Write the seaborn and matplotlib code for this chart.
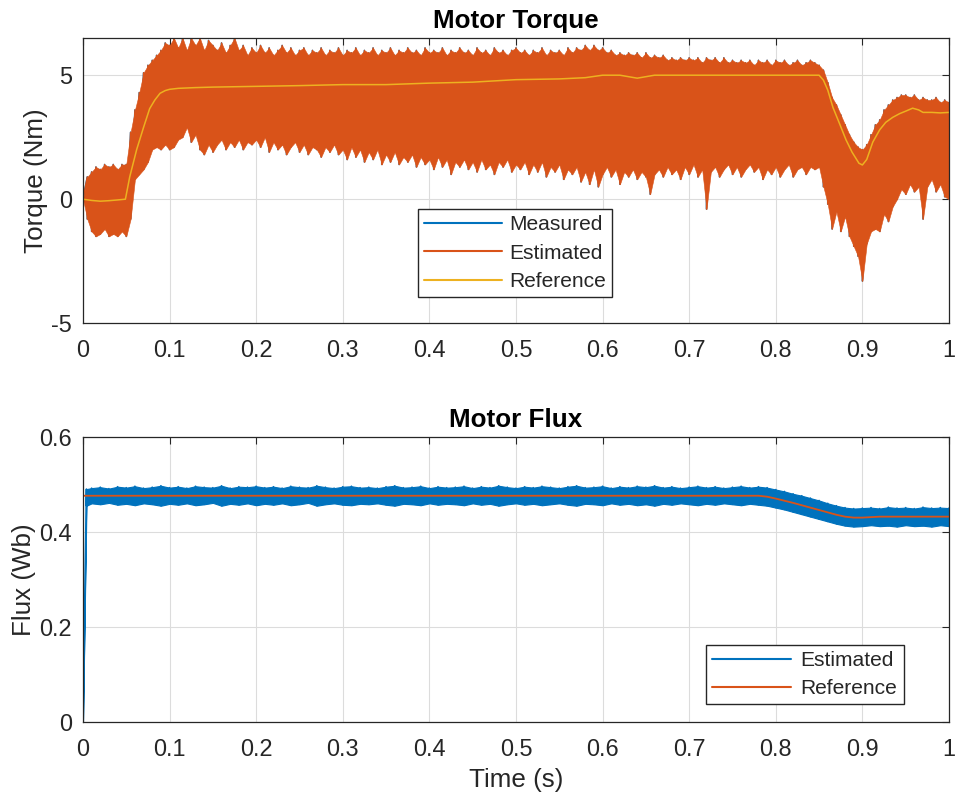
import numpy as np
import pandas as pd
import matplotlib
matplotlib.use("Agg")
import matplotlib.pyplot as plt
from matplotlib.lines import Line2D
from matplotlib.ticker import FormatStrFormatter, MultipleLocator
import seaborn as sns

# ---------------- data ----------------
t_torque = np.round(np.linspace(0, 1, 201), 3)

torque_hi = [
    0.0, 0.9, 1.1, 1.3, 1.2, 1.4, 1.3, 1.4, 1.2, 1.4,
    1.4, 2.7, 3.6, 4.3, 5.1, 5.4, 5.6, 5.8, 6.0, 6.3,
    6.2, 6.5, 6.1, 6.5, 6.0, 6.5, 6.2, 6.5, 6.0, 6.4,
    6.2, 6.0, 6.3, 5.9, 6.2, 6.5, 6.0, 6.2, 5.8, 6.1,
    5.9,
    6.2, 5.9, 6.1, 5.8, 6.0, 6.2, 5.9, 6.1, 5.8, 6.0, 6.1, 5.8, 6.0, 5.9, 6.1, 5.8, 6.0, 5.9, 6.1, 5.8,
    6.0, 5.9, 6.1, 5.8, 6.0, 5.9, 6.1, 5.8, 6.0, 5.9, 6.1, 5.8, 6.0, 5.9, 6.1, 5.9, 6.0, 5.8, 6.1, 5.9,
    6.0, 5.9, 6.1, 5.8, 6.0, 5.9, 6.1, 5.9, 6.0, 5.8, 6.1, 5.9, 6.0, 5.8, 6.1, 5.9, 6.0, 5.8, 6.0, 6.1,
    5.9, 6.0, 5.8, 6.0, 5.9, 6.1, 5.8, 6.0, 5.9, 6.0, 5.8, 6.1, 5.9, 6.1, 6.0, 6.2, 6.0, 6.2, 6.0, 6.1,
    5.9, 6.0, 5.8, 5.9, 5.8, 5.9, 5.8, 5.9, 5.7, 5.9, 5.7, 5.8, 5.7, 5.8, 5.6, 5.7, 5.6, 5.7, 5.6, 5.7,
    5.6, 5.7, 5.5, 5.7, 5.6, 5.7, 5.5, 5.7, 5.5, 5.6, 5.5, 5.6, 5.5, 5.6, 5.4, 5.6, 5.5, 5.6, 5.4, 5.6,
    5.5, 5.6, 5.4, 5.5, 5.6, 5.4, 5.5, 5.6, 5.5, 5.4,
    5.2, 4.7, 4.1, 3.8, 3.4, 3.0, 2.6, 2.3, 2.1, 2.0, 2.2, 2.6, 3.0, 3.2, 3.6,
    3.8, 4.0, 4.1, 4.2, 4.2, 4.1, 4.2, 4.0, 4.1, 4.0, 4.0, 4.1, 3.9, 4.0, 3.9,
]
torque_lo = [
    0.0, -0.8, -1.3, -1.5, -1.4, -1.2, -1.5, -1.4, -1.5, -1.3,
    -1.5, -0.8, 0.8, 1.0, 1.2, 1.5, 2.0, 2.1, 2.0, 2.2,
    2.0, 2.1, 2.4, 2.5, 2.9, 2.3, 2.6, 2.0, 1.8, 2.2,
    1.9, 2.2, 2.4, 2.0, 2.3, 2.1, 2.4, 2.0, 2.3, 2.2,
    2.4,
    2.1, 2.5, 1.9, 2.3, 2.0, 2.2, 1.8, 2.1, 2.3, 1.9, 2.2, 1.8, 2.1, 2.0, 1.7, 2.1, 1.9, 2.2, 1.8, 2.0,
    1.6, 2.1, 1.7, 2.0, 1.5, 1.9, 1.6, 2.0, 1.4, 1.8, 1.5, 1.9, 1.4, 1.7, 1.5, 1.8, 1.3, 1.7, 1.4, 1.6,
    1.2, 1.7, 1.3, 1.6, 1.0, 1.5, 1.3, 1.6, 1.2, 1.5, 1.1, 1.6, 1.2, 1.4, 1.0, 1.5, 1.3, 1.6, 1.1, 1.4,
    1.2, 1.5, 1.0, 1.4, 1.1, 1.5, 0.9, 1.3, 1.1, 1.4, 0.8, 1.2, 1.0, 1.3, 0.7, 1.1, 0.6, 1.2, 0.5, 1.0,
    1.3, 0.9, 1.2, 0.6, 1.1, 0.9, 1.2, 0.8, 1.1, 0.9, 0.2, 1.0, 1.2, 0.9, 1.3, 1.0, 1.2, 0.8, 1.3, 1.0,
    1.4, 0.9, 1.2, -0.4, 1.1, 1.3, 0.9, 1.2, 1.4, 1.0, 1.3, 0.9, 1.2, 1.4, 1.1, 1.3, 0.8, 1.2, 1.0, 1.3,
    0.9, 1.2, 1.4, 0.9, 1.2, 1.3, 1.0, 1.3, 1.2, 1.3,
    0.5, -0.2, -1.2, -0.5, -1.3, -0.7, -1.5, -1.9, -2.3, -3.3, -1.8, -1.3, -1.2, -1.3, -0.6,
    -0.9, -0.3, 0.0, 0.4, 0.2, 0.6, 0.3, 0.5, -0.8, 0.5, 0.8, 0.3, 0.6, 0.1, 0.0,
]

ref_torque_t = [0, 0.01, 0.02, 0.03, 0.04, 0.049, 0.054, 0.062, 0.07, 0.077,
                0.083, 0.089, 0.095, 0.1, 0.11, 0.13, 0.15, 0.2, 0.25, 0.3,
                0.35, 0.4, 0.45, 0.5, 0.55, 0.58, 0.6, 0.62, 0.64, 0.66,
                0.7, 0.75, 0.8, 0.85, 0.855, 0.86, 0.866, 0.873, 0.881, 0.888,
                0.896, 0.9, 0.905, 0.912, 0.92, 0.927, 0.935, 0.943, 0.95, 0.958,
                0.965, 0.97, 0.98, 0.99, 1.0]
ref_torque = [0, -0.05, -0.08, -0.06, -0.03, 0.0, 0.9, 2.0, 2.9, 3.65,
              4.0, 4.27, 4.38, 4.43, 4.47, 4.5, 4.52, 4.55, 4.58, 4.62,
              4.62, 4.68, 4.72, 4.82, 4.85, 4.9, 5.0, 5.0, 4.88, 5.0,
              5.0, 5.0, 5.0, 5.0, 4.8, 4.4, 3.7, 3.1, 2.4, 1.9,
              1.45, 1.38, 1.6, 2.3, 2.8, 3.1, 3.3, 3.45, 3.55, 3.67,
              3.6, 3.5, 3.5, 3.48, 3.5]

flux_t = [0.0, 0.004] + [round(0.01 * k, 2) for k in range(1, 101)]
flux_hi = [0.0, 0.490,
    0.492, 0.494, 0.491, 0.495, 0.493, 0.496, 0.492, 0.494, 0.497, 0.493,
    0.495, 0.492, 0.496, 0.494, 0.493, 0.497, 0.492, 0.495, 0.494, 0.496,
    0.493, 0.495, 0.492, 0.496, 0.494, 0.493, 0.497, 0.494, 0.492, 0.495,
    0.496, 0.493, 0.494, 0.492, 0.495, 0.497, 0.493, 0.494, 0.496, 0.492,
    0.495, 0.493, 0.494, 0.496, 0.492, 0.495, 0.493, 0.497, 0.494, 0.492,
    0.495, 0.493, 0.496, 0.494, 0.492, 0.495, 0.497, 0.493, 0.494, 0.496,
    0.492, 0.495, 0.493, 0.496, 0.494, 0.497, 0.493, 0.495, 0.492, 0.494,
    0.496, 0.493, 0.495, 0.492, 0.494, 0.496, 0.493, 0.495,
    0.493, 0.489, 0.485, 0.480, 0.476, 0.471, 0.466, 0.460, 0.455, 0.451, 0.449,
    0.450, 0.451, 0.449, 0.452, 0.450, 0.451, 0.449, 0.452, 0.450, 0.451, 0.450]
flux_lo = [0.0, 0.455,
    0.460, 0.458, 0.461, 0.457, 0.459, 0.456, 0.460, 0.458, 0.455, 0.459,
    0.457, 0.460, 0.456, 0.458, 0.461, 0.455, 0.459, 0.457, 0.460, 0.456,
    0.459, 0.457, 0.460, 0.456, 0.458, 0.461, 0.455, 0.458, 0.460, 0.457,
    0.456, 0.459, 0.458, 0.460, 0.457, 0.455, 0.459, 0.458, 0.456, 0.460,
    0.457, 0.459, 0.458, 0.456, 0.460, 0.457, 0.459, 0.455, 0.458, 0.460,
    0.457, 0.459, 0.456, 0.458, 0.460, 0.457, 0.455, 0.459, 0.458, 0.456,
    0.460, 0.457, 0.459, 0.456, 0.458, 0.455, 0.459, 0.457, 0.460, 0.458,
    0.456, 0.459, 0.457, 0.460, 0.458, 0.456, 0.459, 0.457,
    0.455, 0.451, 0.447, 0.442, 0.437, 0.432, 0.427, 0.422, 0.417, 0.413, 0.411,
    0.412, 0.414, 0.412, 0.413, 0.411, 0.414, 0.412, 0.413, 0.411, 0.414, 0.412]

ref_flux_t = [0, 0.78, 0.79, 0.80, 0.82, 0.84, 0.86, 0.87, 0.88, 0.89, 0.90, 0.92, 0.95, 1.0]
ref_flux = [0.476, 0.476, 0.474, 0.470, 0.461, 0.451, 0.441, 0.436, 0.432, 0.430, 0.430, 0.432, 0.432, 0.432]

legend_torque = ["Measured", "Estimated", "Reference"]
legend_flux = ["Estimated", "Reference"]

# ---------------- style ----------------
sns.set_style("white")
plt.rcParams["font.family"] = ["Liberation Sans", "DejaVu Sans"]
plt.rcParams["axes.unicode_minus"] = False

BLUE = "#0072BD"
ORANGE = "#D95319"
YELLOW = "#EDB120"
AXC = "#262626"

fig = plt.figure(figsize=(9.58, 8), dpi=100)
ax1 = fig.add_axes([0.0866, 0.596, 0.904, 0.3565])
ax2 = fig.add_axes([0.0866, 0.0975, 0.904, 0.3565])


def zigzag(t, hi, lo):
    return pd.DataFrame({"t": np.repeat(np.asarray(t, float), 2),
                         "v": np.column_stack([hi, lo]).ravel()})


# ---- torque ----
df_tq = zigzag(t_torque, torque_hi, torque_lo)
sns.lineplot(data=df_tq, x="t", y="v", sort=False, estimator=None, color=BLUE, lw=1.15, ax=ax1, zorder=1.1)
ax1.fill_between(t_torque, torque_lo, torque_hi, facecolor=ORANGE, edgecolor=ORANGE, lw=0.4, zorder=1.2)
sns.lineplot(data=df_tq, x="t", y="v", sort=False, estimator=None, color=ORANGE, lw=1.0, ax=ax1, zorder=1.3)
sns.lineplot(x=ref_torque_t, y=ref_torque, sort=False, estimator=None, color=YELLOW, lw=1.1, ax=ax1, zorder=1.4)

# ---- flux ----
df_fx = zigzag(flux_t, flux_hi, flux_lo)
ax2.fill_between(flux_t, flux_lo, flux_hi, facecolor=BLUE, edgecolor=BLUE, lw=0.8, zorder=1.0)
sns.lineplot(data=df_fx, x="t", y="v", sort=False, estimator=None, color=BLUE, lw=1.2, ax=ax2, zorder=1.1)
sns.lineplot(x=ref_flux_t, y=ref_flux, sort=False, estimator=None, color=ORANGE, lw=1.3, ax=ax2, zorder=1.4)

for ax in (ax1, ax2):
    ax.set_xlim(0, 1)
    ax.xaxis.set_major_locator(MultipleLocator(0.1))
    ax.xaxis.set_major_formatter(FormatStrFormatter("%g"))
    ax.yaxis.set_major_formatter(FormatStrFormatter("%g"))
    ax.tick_params(direction="in", top=True, right=True, length=5, width=0.8,
                   colors=AXC, labelsize=16.9)
    ax.tick_params(axis="x", pad=11.5)
    ax.tick_params(axis="y", pad=8)
    ax.grid(True, color="#dcdcdc", lw=0.8)
    ax.set_axisbelow(True)
    for s in ax.spines.values():
        s.set_color(AXC)
        s.set_linewidth(0.9)
        s.set_zorder(3)

ax1.set_ylim(-5, 6.5)
ax1.set_yticks([-5, 0, 5])
ax2.set_ylim(0, 0.6)
ax2.set_yticks([0, 0.2, 0.4, 0.6])

ax1.set_xlabel("")
ax1.set_ylabel("Torque (Nm)", fontsize=18.7, color=AXC, labelpad=2)
ax2.set_ylabel("Flux (Wb)", fontsize=18.7, color=AXC, labelpad=2.5)
ax2.set_xlabel("Time (s)", fontsize=18.7, color=AXC, labelpad=5)
ax1.set_title("Motor Torque", fontsize=18.7, fontweight="bold", color="black", pad=7)
ax2.set_title("Motor Flux", fontsize=18.7, fontweight="bold", color="black", pad=7)

h_tq = [Line2D([], [], color=BLUE, lw=1.5), Line2D([], [], color=ORANGE, lw=1.5),
        Line2D([], [], color=YELLOW, lw=1.5)]
leg1 = ax1.legend(h_tq, legend_torque, loc="center", bbox_to_anchor=(0.4985, 0.2455),
                  fontsize=15.1, frameon=True, fancybox=False, edgecolor=AXC, framealpha=1,
                  handlelength=3.75, handletextpad=0.3, labelspacing=0.44, borderpad=0.3,
                  borderaxespad=0)
leg1.get_frame().set_linewidth(1.0)
leg1.set_zorder(5)

h_fx = [Line2D([], [], color=BLUE, lw=1.5), Line2D([], [], color=ORANGE, lw=1.5)]
leg2 = ax2.legend(h_fx, legend_flux, loc="center", bbox_to_anchor=(0.8335, 0.1665),
                  fontsize=15.1, frameon=True, fancybox=False, edgecolor=AXC, framealpha=1,
                  handlelength=3.75, handletextpad=0.45, labelspacing=0.44, borderpad=0.3,
                  borderaxespad=0)
leg2.get_frame().set_linewidth(1.0)
leg2.set_zorder(5)

fig.savefig("out.png", dpi=100)
